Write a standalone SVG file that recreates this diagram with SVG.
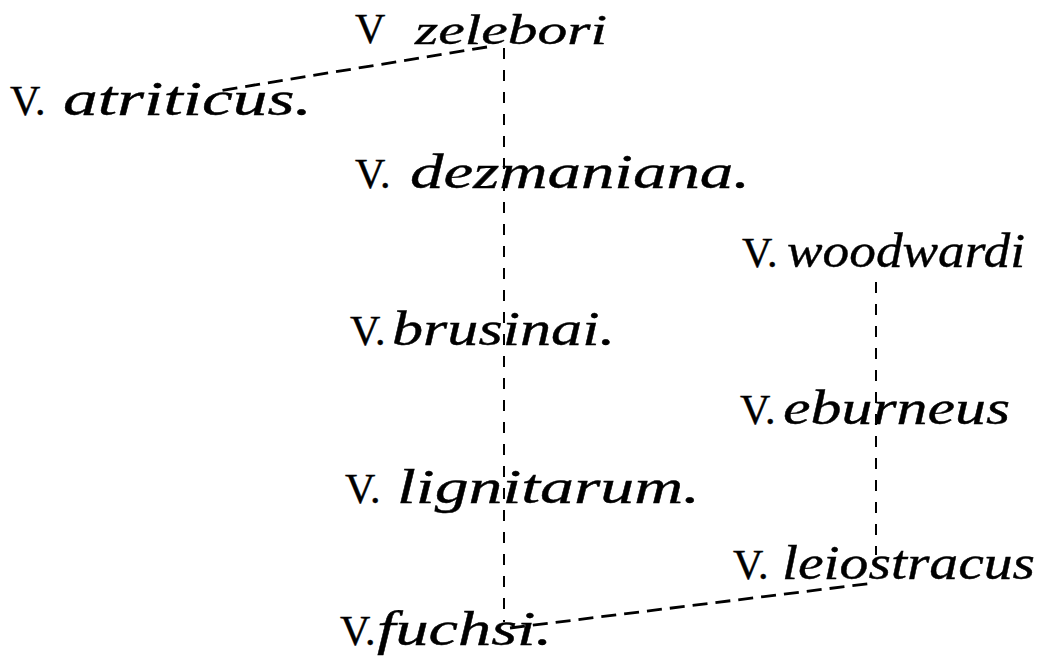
<svg xmlns="http://www.w3.org/2000/svg" width="1039" height="659" viewBox="0 0 1039 659">
<style>
text{font-family:"Liberation Serif",serif;font-size:42px;fill:#000;stroke:#000;stroke-width:0.4}
.sp{font-style:italic;font-size:48px}
.c{stroke:#000;stroke-width:2.8;fill:none;stroke-dasharray:15 8}
.v{stroke:#000;stroke-width:2;fill:none;stroke-dasharray:11 11}
</style>
<rect width="1039" height="659" fill="#fff"/>
<g id="connectors">
<path class="c" d="M487 47 L218 91"/>
<path class="v" d="M504 48 V622"/>
<path class="v" d="M876 282 V555"/>
<path class="c" d="M510 628 L874 583"/>
</g>
<g id="zelebori"><text x="355" y="43">V</text><text class="sp" x="415" y="44" style="font-size:42px" textLength="192" lengthAdjust="spacingAndGlyphs">zelebori</text></g>
<g id="atriticus"><text x="10" y="115">V.</text><text class="sp" x="63" y="115" textLength="249" lengthAdjust="spacingAndGlyphs">atriticus.</text></g>
<g id="dezmaniana"><text x="355" y="188">V.</text><text class="sp" x="410" y="188" textLength="340" lengthAdjust="spacingAndGlyphs">dezmaniana.</text></g>
<g id="woodwardi"><text x="742" y="267">V.</text><text class="sp" x="787" y="267" textLength="238" lengthAdjust="spacingAndGlyphs">woodwardi</text></g>
<g id="brusinai"><text x="350" y="345">V.</text><text class="sp" x="392" y="345" textLength="223" lengthAdjust="spacingAndGlyphs">brusinai.</text></g>
<g id="eburneus"><text x="740" y="424">V.</text><text class="sp" x="783" y="424" textLength="227" lengthAdjust="spacingAndGlyphs">eburneus</text></g>
<g id="lignitarum"><text x="345" y="503">V.</text><text class="sp" x="397" y="503" textLength="303" lengthAdjust="spacingAndGlyphs">lignitarum.</text></g>
<g id="leiostracus"><text x="733" y="579">V.</text><text class="sp" x="782" y="579" textLength="253" lengthAdjust="spacingAndGlyphs">leiostracus</text></g>
<g id="fuchsi"><text x="340" y="645">V.</text><text class="sp" x="377" y="645" textLength="175" lengthAdjust="spacingAndGlyphs">fuchsi.</text></g>
</svg>
